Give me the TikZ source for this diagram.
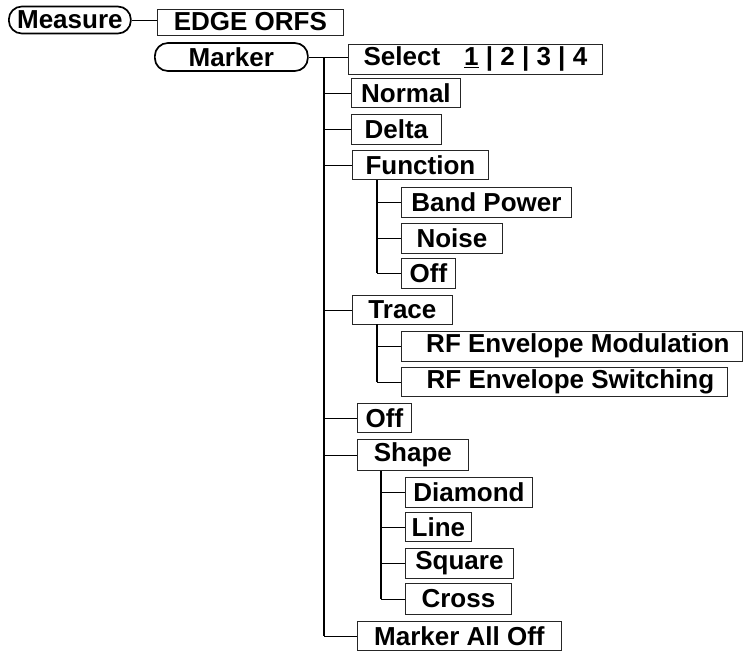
\documentclass[tikz,border=0pt]{standalone}
\usepackage{fontspec}
\setmainfont{Liberation Sans}
\usepackage{tikz}

\begin{document}
\begin{tikzpicture}[x=1pt,y=-1pt,
        menu/.style={draw=black!85,line width=0.8pt,inner sep=0pt,anchor=west,
            font=\fontsize{26}{30}\selectfont\bfseries},
        softkey/.style={draw=black,line width=1.7pt,rounded corners=13pt,inner sep=0pt,anchor=west,
            font=\fontsize{26}{30}\selectfont\bfseries},
        conn/.style={black,line width=0.9pt},
        trunk/.style={black,line width=1.6pt}]
            \useasboundingbox (0,0) rectangle (743,651);

            % soft keys
            \node[softkey,minimum width=122pt,minimum height=27pt] (measure) at (8,20) {Measure};
            \node[menu,minimum width=186pt,minimum height=26pt] (edge) at (157,22) {EDGE ORFS};
            \node[softkey,minimum width=153pt,minimum height=28pt] (marker) at (154,57) {Marker};

            % marker menu
            \node[menu,minimum width=254pt,minimum height=30pt] (select) at (348,59) {Select\hspace{24pt}\underline{1} | 2 | 3 | 4};
            \node[menu,minimum width=109pt,minimum height=29pt] (normal) at (351,93) {Normal};
            \node[menu,minimum width=90pt,minimum height=30pt] (delta) at (351,129) {Delta};
            \node[menu,minimum width=136pt,minimum height=29pt] (function) at (352,165) {Function};
            \node[menu,minimum width=170pt,minimum height=30pt] (band) at (401,202) {Band Power};
            \node[menu,minimum width=101pt,minimum height=30pt] (noise) at (401,238) {Noise};
            \node[menu,minimum width=54pt,minimum height=30pt] (foff) at (401,273) {Off};
            \node[menu,minimum width=100pt,minimum height=29pt] (trace) at (352,310) {Trace};
            \node[menu,minimum width=341pt,minimum height=30pt] (rfmod) at (401,346) {\hspace{12pt}RF Envelope Modulation};
            \node[menu,minimum width=326pt,minimum height=29pt] (rfsw) at (401,382) {\hspace{12pt}RF Envelope Switching};
            \node[menu,minimum width=54pt,minimum height=29pt] (off) at (357,418) {Off};
            \node[menu,minimum width=111pt,minimum height=31pt] (shape) at (357,455) {Shape};
            \node[menu,minimum width=127pt,minimum height=30pt] (diamond) at (405,492) {Diamond};
            \node[menu,minimum width=66pt,minimum height=29pt] (line) at (405,527) {Line};
            \node[menu,minimum width=108pt,minimum height=30pt] (square) at (405,563) {Square};
            \node[menu,minimum width=106pt,minimum height=31pt] (cross) at (405,599) {Cross};
            \node[menu,minimum width=204pt,minimum height=29pt] (alloff) at (357,636) {Marker All Off};

            % connectors
            \draw[conn] (measure.east) -- (measure.east -| edge.west);
            \draw[conn] (marker.east) -- (marker.east -| select.west);
            \coordinate (mtrunk) at (324,57);
            \draw[trunk] (mtrunk) -- (mtrunk |- alloff.west);
            \foreach \n in {normal,delta,function,trace,off,shape,alloff}
                \draw[conn] (mtrunk |- \n.west) -- (\n.west);

            \coordinate (ftrunk) at (377,180);
            \draw[trunk] (ftrunk) -- (ftrunk |- foff.west);
            \foreach \n in {band,noise,foff}
                \draw[conn] (ftrunk |- \n.west) -- (\n.west);

            \coordinate (ttrunk) at (377,324);
            \draw[trunk] (ttrunk) -- (ttrunk |- rfsw.west);
            \foreach \n in {rfmod,rfsw}
                \draw[conn] (ttrunk |- \n.west) -- (\n.west);

            \coordinate (strunk) at (381,471);
            \draw[trunk] (strunk) -- (strunk |- cross.west);
            \foreach \n in {diamond,line,square,cross}
                \draw[conn] (strunk |- \n.west) -- (\n.west);
        \end{tikzpicture}
\end{document}
